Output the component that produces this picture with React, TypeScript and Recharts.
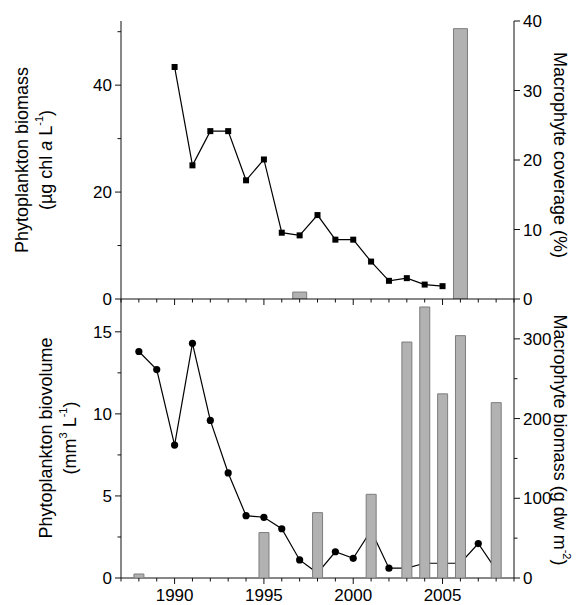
import React from "react";
import { ComposedChart, Line, Bar, XAxis, YAxis } from "recharts";

const FONT = '"Liberation Sans", Arial, Helvetica, sans-serif';
const INK = "#111";
const BAR_FILL = "#b2b2b2";
const BAR_EDGE = "#7d7d7d";

// River Ebro: chlorophyll (left axis) and macrophyte coverage (right axis)
const EBRO_YEARS = [1990, 1991, 1992, 1993, 1994, 1995, 1996, 1997, 1998, 1999, 2000, 2001, 2002, 2003, 2004, 2005];
const EBRO_CHL = [43.4, 25.0, 31.4, 31.4, 22.2, 26.1, 12.4, 11.9, 15.7, 11.1, 11.1, 7.0, 3.4, 3.9, 2.7, 2.4];
const EBRO_COVER_YEARS = [1997, 2006];
const EBRO_COVER = [1.0, 38.9];

// River Spree: biovolume (left axis) and macrophyte biomass (right axis)
const SPREE_YEARS = [1988, 1989, 1990, 1991, 1992, 1993, 1994, 1995, 1996, 1997, 1998, 1999, 2000, 2001, 2002, 2003, 2004, 2005, 2006, 2007, 2008];
const SPREE_BIOVOL = [13.8, 12.7, 8.1, 14.3, 9.6, 6.4, 3.8, 3.7, 3.0, 1.1, 0.3, 1.6, 1.2, 2.9, 0.6, 0.6, 0.9, 0.9, 0.9, 2.1, 0.5];
const SPREE_MACRO_YEARS = [1988, 1995, 1998, 2001, 2003, 2004, 2005, 2006, 2008];
const SPREE_MACRO = [5, 57, 82, 105, 296, 340, 231, 304, 220];

// ticks
const YEAR_TICKS = [1987, 1988, 1989, 1990, 1991, 1992, 1993, 1994, 1995, 1996, 1997, 1998, 1999, 2000, 2001, 2002, 2003, 2004, 2005, 2006, 2007, 2008, 2009];
const YEAR_LABELS = [1990, 1995, 2000, 2005];
const EBRO_LEFT_TICKS = [0, 10, 20, 30, 40, 50];
const EBRO_LEFT_LABELS = [0, 20, 40];
const EBRO_RIGHT_TICKS = [0, 10, 20, 30, 40];
const EBRO_RIGHT_LABELS = [0, 10, 20, 30, 40];
const SPREE_LEFT_TICKS = [0, 2.5, 5, 7.5, 10, 12.5, 15];
const SPREE_LEFT_LABELS = [0, 5, 10, 15];
const SPREE_RIGHT_TICKS = [0, 50, 100, 150, 200, 250, 300];
const SPREE_RIGHT_LABELS = [0, 100, 200, 300];

const X_DOMAIN = [1987, 2009];
const EBRO_LEFT_DOMAIN = [0, 52];
const EBRO_RIGHT_DOMAIN = [0, 40];
const SPREE_LEFT_DOMAIN = [0, 17];
const SPREE_RIGHT_DOMAIN = [0, 350];

function buildRows(lineYears: number[], lineVals: number[], barYears: number[], barVals: number[]) {
  const years = Array.from(new Set([...lineYears, ...barYears])).sort((a, b) => a - b);
  return years.map((year) => {
    const li = lineYears.indexOf(year);
    const bi = barYears.indexOf(year);
    return { year, line: li >= 0 ? lineVals[li] : null, bar: bi >= 0 ? barVals[bi] : null };
  });
}

const ebroRows = buildRows(EBRO_YEARS, EBRO_CHL, EBRO_COVER_YEARS, EBRO_COVER);
const spreeRows = buildRows(SPREE_YEARS, SPREE_BIOVOL, SPREE_MACRO_YEARS, SPREE_MACRO);

// tick renderers: (x, y) arrive on the axis line because tickSize and tickMargin are 0
function makeTick(side: "left" | "right" | "bottom", labels: number[], showLabels = true) {
  return (props: any) => {
    const { x, y, payload } = props;
    const v = payload.value;
    const major = labels.includes(v);
    const len = major ? 6 : 3.5;
    if (side === "bottom") {
      return (
        <g>
          <line x1={x} x2={x} y1={y} y2={y + len} stroke={INK} />
          {showLabels && major && (
            <text x={x} y={y + 23} textAnchor="middle" fontFamily={FONT} fontSize={17} fill="#000">
              {v}
            </text>
          )}
        </g>
      );
    }
    const dir = side === "left" ? -1 : 1;
    return (
      <g>
        <line x1={x} x2={x + dir * len} y1={y} y2={y} stroke={INK} />
        {showLabels && major && (
          <text
            x={x + dir * 9}
            y={y + 6}
            textAnchor={side === "left" ? "end" : "start"}
            fontFamily={FONT}
            fontSize={17}
            fill="#000"
          >
            {v}
          </text>
        )}
      </g>
    );
  };
}

function squareDot(props: any) {
  const { cx, cy, index } = props;
  if (cx == null || cy == null) return <g key={index} />;
  return <rect key={index} x={cx - 3} y={cy - 3} width={6} height={6} fill="#000" />;
}

function sideTitle(x: number, y: number, angle: number, content: React.ReactNode) {
  return () => (
    <text
      x={x}
      y={y}
      transform={`rotate(${angle} ${x} ${y})`}
      textAnchor="middle"
      dominantBaseline="central"
      fontFamily={FONT}
      fontSize={18}
      fill="#000"
    >
      {content}
    </text>
  );
}

function twoLineTitle(x1: number, x2: number, y: number, line1: React.ReactNode, line2: React.ReactNode) {
  return () => (
    <g>
      {sideTitle(x1, y, -90, line1)()}
      {sideTitle(x2, y, -90, line2)()}
    </g>
  );
}

function panelName(x: number, y: number, text: string) {
  return () => (
    <text x={x} y={y} fontFamily={FONT} fontSize={17} fill="#000">
      {text}
    </text>
  );
}

const sup = (s: string) => (
  <>
    <tspan dy={-7} fontSize={11}>{s}</tspan>
    <tspan dy={7}>)</tspan>
  </>
);

export default function App() {
  return (
    <div style={{ position: "absolute", left: 0, top: 0, width: 583, height: 605, background: "#fff" }}>
      {/* River Spree: axes and biovolume line */}
      <div style={{ position: "absolute", left: 0, top: 299 }}>
        <ComposedChart width={583} height={306} data={spreeRows} margin={{ top: 0, right: 0, bottom: 0, left: 0 }}>
          <XAxis
            dataKey="year"
            type="number"
            domain={X_DOMAIN}
            ticks={YEAR_TICKS}
            interval={0}
            height={27}
            tickSize={0}
            tickMargin={0}
            tickLine={false}
            tick={makeTick("bottom", YEAR_LABELS)}
            axisLine={{ stroke: INK }}
            allowDataOverflow
          />
          <YAxis
            yAxisId="l"
            orientation="left"
            width={121}
            domain={SPREE_LEFT_DOMAIN}
            ticks={SPREE_LEFT_TICKS}
            interval={0}
            tickSize={0}
            tickMargin={0}
            tickLine={false}
            tick={makeTick("left", SPREE_LEFT_LABELS)}
            axisLine={{ stroke: INK }}
            allowDataOverflow
            label={twoLineTitle(
              46,
              70,
              139,
              "Phytoplankton biovolume",
              <>(mm<tspan dy={-7} fontSize={11}>3</tspan><tspan dy={7}> L</tspan>{sup("-1")}</>
            )}
          />
          <YAxis
            yAxisId="r"
            orientation="right"
            width={69}
            domain={SPREE_RIGHT_DOMAIN}
            ticks={SPREE_RIGHT_TICKS}
            interval={0}
            tickSize={0}
            tickMargin={0}
            tickLine={false}
            tick={makeTick("right", SPREE_RIGHT_LABELS)}
            axisLine={{ stroke: INK }}
            allowDataOverflow
            label={sideTitle(560, 141, 90, <>Macrophyte biomass (g dw m{sup("-2")}</>)}
          />
          <XAxis
            xAxisId="t"
            orientation="top"
            dataKey="year"
            type="number"
            domain={X_DOMAIN}
            height={0}
            tick={false}
            tickLine={false}
            axisLine={false}
            label={panelName(139, 30, "River Spree")}
          />
          <Line
            yAxisId="l"
            dataKey="line"
            stroke="#000"
            strokeWidth={1.2}
            dot={{ r: 3.6, fill: "#000", stroke: "#000", strokeWidth: 0 }}
            activeDot={false}
            isAnimationActive={false}
          />
        </ComposedChart>
      </div>
      {/* River Spree: biomass bars, layered above the line */}
      <div style={{ position: "absolute", left: 0, top: 299 }}>
        <ComposedChart width={583} height={306} data={spreeRows} margin={{ top: 0, right: 69, bottom: 27, left: 121 }}>
          <XAxis dataKey="year" type="number" domain={X_DOMAIN} ticks={YEAR_TICKS} hide allowDataOverflow />
          <YAxis yAxisId="r" orientation="right" domain={SPREE_RIGHT_DOMAIN} hide allowDataOverflow />
          <Bar
            yAxisId="r"
            dataKey="bar"
            barSize={10}
            fill={BAR_FILL}
            stroke={BAR_EDGE}
            strokeWidth={1}
            isAnimationActive={false}
          />
        </ComposedChart>
      </div>
      {/* River Ebro */}
      <div style={{ position: "absolute", left: 0, top: 0 }}>
        <ComposedChart width={583} height={312} data={ebroRows} margin={{ top: 21, right: 0, bottom: 0, left: 0 }}>
          <XAxis
            dataKey="year"
            type="number"
            domain={X_DOMAIN}
            ticks={YEAR_TICKS}
            interval={0}
            height={13}
            tickSize={0}
            tickMargin={0}
            tickLine={false}
            tick={makeTick("bottom", YEAR_LABELS, false)}
            axisLine={{ stroke: INK }}
            allowDataOverflow
          />
          <XAxis
            xAxisId="t"
            orientation="top"
            dataKey="year"
            type="number"
            domain={X_DOMAIN}
            height={0}
            tick={false}
            tickLine={false}
            axisLine={{ stroke: INK }}
            label={panelName(133, 49, "River Ebro")}
          />
          <YAxis
            yAxisId="l"
            orientation="left"
            width={121}
            domain={EBRO_LEFT_DOMAIN}
            ticks={EBRO_LEFT_TICKS}
            interval={0}
            tickSize={0}
            tickMargin={0}
            tickLine={false}
            tick={makeTick("left", EBRO_LEFT_LABELS)}
            axisLine={{ stroke: INK }}
            allowDataOverflow
            label={twoLineTitle(
              22,
              46,
              160,
              "Phytoplankton biomass",
              <>(µg chl <tspan fontStyle="italic">a</tspan> L{sup("-1")}</>
            )}
          />
          <YAxis
            yAxisId="r"
            orientation="right"
            width={69}
            domain={EBRO_RIGHT_DOMAIN}
            ticks={EBRO_RIGHT_TICKS}
            interval={0}
            tickSize={0}
            tickMargin={0}
            tickLine={false}
            tick={makeTick("right", EBRO_RIGHT_LABELS)}
            axisLine={{ stroke: INK }}
            allowDataOverflow
            label={sideTitle(560, 155, 90, "Macrophyte coverage (%)")}
          />
          <Line
            yAxisId="l"
            dataKey="line"
            stroke="#000"
            strokeWidth={1.2}
            dot={squareDot}
            activeDot={false}
            isAnimationActive={false}
          />
          <Bar
            yAxisId="r"
            dataKey="bar"
            barSize={14}
            fill={BAR_FILL}
            stroke={BAR_EDGE}
            strokeWidth={1}
            isAnimationActive={false}
          />
        </ComposedChart>
      </div>
    </div>
  );
}
